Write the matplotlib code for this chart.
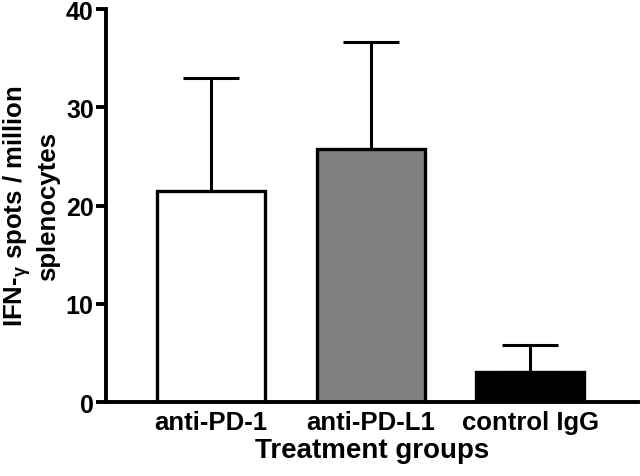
import matplotlib
matplotlib.use("Agg")
import matplotlib.pyplot as plt
import numpy as np

plt.rcParams['font.family'] = ['Liberation Sans', 'DejaVu Sans']
plt.rcParams['font.weight'] = 'bold'
plt.rcParams['mathtext.fontset'] = 'custom'
plt.rcParams['mathtext.rm'] = 'Liberation Sans:bold'
plt.rcParams['mathtext.it'] = 'Liberation Sans:bold'
plt.rcParams['mathtext.default'] = 'regular'

categories = ['anti-PD-1', 'anti-PD-L1', 'control IgG']
means = [21.5, 25.8, 3.1]
errors_upper = [11.5, 10.8, 2.7]
colors = ['white', '#808080', 'black']
yticks = [0, 10, 20, 30, 40]

fig = plt.figure(figsize=(6.4, 4.77), dpi=100)
ax = fig.add_axes([0.166, 0.155, 0.831, 0.824])

x = np.arange(len(categories))
ax.bar(x, means, width=0.677, color=colors, edgecolor='black', linewidth=2.4, zorder=2)
ax.errorbar(x, means, yerr=[[0, 0, 0], errors_upper], fmt='none', ecolor='black',
            elinewidth=2.2, capsize=20.5, capthick=2.2, zorder=1)

ax.set_xlim(-0.658, 2.677)
ax.set_ylim(0, 40)
ax.set_yticks(yticks)
ax.set_xticks(x)
ax.set_xticklabels(categories, fontsize=18.5, fontweight='bold')
ax.tick_params(axis='x', length=0, pad=6)
ax.tick_params(axis='y', length=7, width=2.8, labelsize=18, pad=2)
for lab in ax.get_yticklabels():
    lab.set_fontweight('bold')

for s in ['top', 'right']:
    ax.spines[s].set_visible(False)
for s in ['left', 'bottom']:
    ax.spines[s].set_linewidth(2.8)

ax.set_xlabel('Treatment groups', fontsize=20, fontweight='bold', labelpad=2)
ax.set_ylabel('IFN-$_{\\gamma}$ spots / million\nsplenocytes', fontsize=18.5,
              fontweight='bold', labelpad=4, linespacing=1.2)

fig.savefig('out.png', dpi=100)
